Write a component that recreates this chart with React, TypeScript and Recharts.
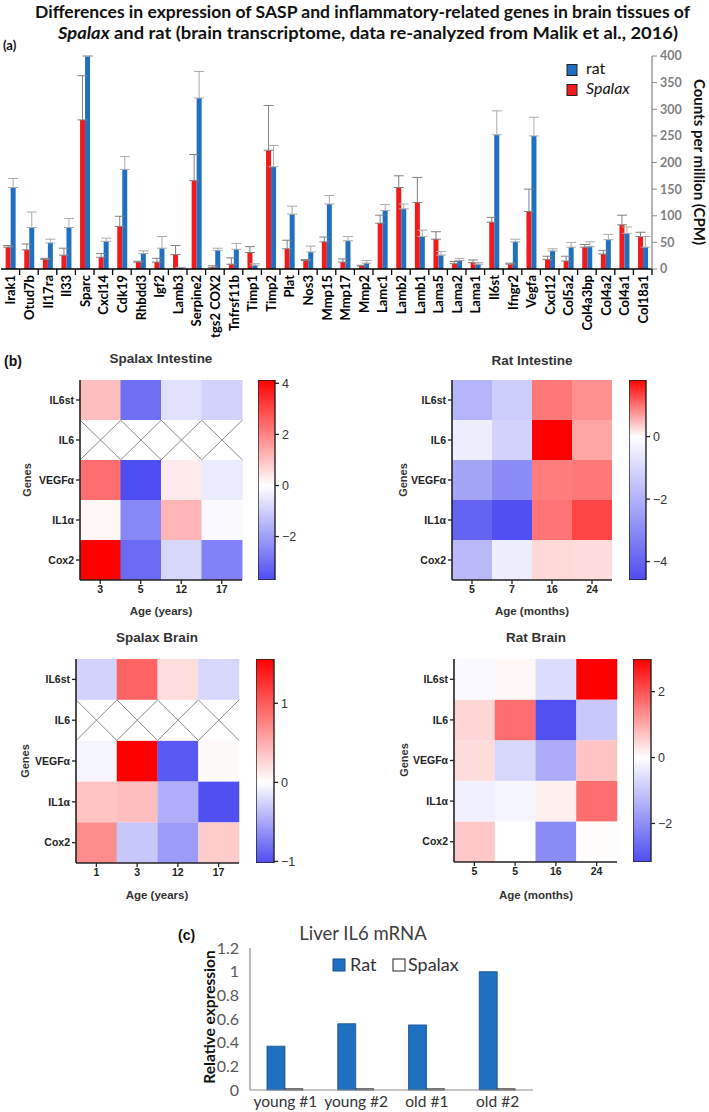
import React from 'react';
import { BarChart, Bar, XAxis, YAxis, ErrorBar } from 'recharts';

const CALIBRI = 'Lato, "Open Sans", sans-serif';
const ARIAL = '"Liberation Sans", Arial, sans-serif';

// ---------- (a) brain transcriptome ----------
const genes = ['Irak1', 'Otud7b', 'Il17ra', 'Il33', 'Sparc', 'Cxcl14', 'Cdk19', 'Rhbdd3', 'Igf2', 'Lamb3', 'Serpine2', 'tgs2 COX2', 'Tnfrsf11b', 'Timp1', 'Timp2', 'Plat', 'Nos3', 'Mmp15', 'Mmp17', 'Mmp2', 'Lamc1', 'Lamb2', 'Lamb1', 'Lama5', 'Lama2', 'Lama1', 'Il6st', 'Ifngr2', 'Vegfa', 'Cxcl12', 'Col5a2', 'Col4a3bp', 'Col4a2', 'Col4a1', 'Col18a1'];
const spalaxCPM = [41, 36, 18, 26, 280, 22, 80, 13, 13, 27, 166, 3, 9, 31, 223, 38, 16, 51, 13, 6, 86, 153, 125, 56, 10, 12, 88, 9, 108, 18, 15, 41, 28, 83, 61];
const spalaxSD = [3, 11, 2, 13, 83, 7, 19, 1.5, 7, 17, 49, 3, 12, 11, 84, 16, 2, 9, 6, 1, 15, 22, 47, 14, 4, 5, 9, 2, 42, 6, 9, 5, 7, 18, 8];
const ratCPM = [153, 78, 49, 78, 400, 52, 187, 29, 39, 3, 321, 35, 37, 7, 192, 103, 32, 122, 53, 11, 110, 113, 61, 26, 16, 9, 252, 51, 250, 34, 41, 42, 55, 67, 41];
const ratSD = [17, 29, 7, 17, 0, 6, 24, 5, 22, 0, 50, 4, 11, 3, 40, 15, 11, 16, 8, 5, 11, 9, 12, 7, 4, 3, 45, 5, 35, 4, 9, 9, 10, 12, 20];
const cpmTicks = [0, 50, 100, 150, 200, 250, 300, 350, 400];

// ---------- (b) heatmaps ----------
const heatGenes = ['IL6st', 'IL6', 'VEGFα', 'IL1α', 'Cox2'];

const spalaxIntestineAges = ['3', '5', '12', '17'];
const spalaxIntestineZ: (number | null)[][] = [
  [1.05, -3.0, -0.62, -0.93],
  [null, null, null, null],
  [2.35, -3.7, 0.33, -0.42],
  [0.14, -2.5, 1.2, -0.1],
  [4.13, -3.1, -0.83, -2.6],
];
const spalaxIntestineRange = [-3.7, 4.13];
const spalaxIntestineTicks = [-2, 0, 2, 4];

const ratIntestineAges = ['5', '7', '16', '24'];
const ratIntestineZ: (number | null)[][] = [
  [-1.93, -1.29, 0.96, 0.78],
  [-0.44, -1.16, 1.81, 0.64],
  [-2.32, -2.96, 0.92, 0.96],
  [-4.0, -4.5, 0.99, 1.31],
  [-1.8, -0.44, 0.28, 0.25],
];
const ratIntestineRange = [-4.59, 1.81];
const ratIntestineTicks = [-4, -2, 0];

const spalaxBrainAges = ['1', '3', '12', '17'];
const spalaxBrainZ: (number | null)[][] = [
  [-0.26, 0.95, 0.21, -0.23],
  [null, null, null, null],
  [-0.06, 1.56, -0.95, 0.03],
  [0.37, 0.4, -0.46, -1.0],
  [0.7, -0.32, -0.57, 0.31],
];
const spalaxBrainRange = [-1.02, 1.56];
const spalaxBrainTicks = [-1, 0, 1];

const ratBrainAges = ['5', '5', '16', '24'];
const ratBrainZ: (number | null)[][] = [
  [-0.1, 0.1, -0.6, 2.99],
  [0.48, 1.7, -3.1, -0.98],
  [0.41, -0.71, -1.5, 0.7],
  [-0.27, -0.18, 0.18, 1.7],
  [0.65, 0, -2.05, 0.03],
];
const ratBrainRange = [-3.17, 2.99];
const ratBrainTicks = [-2, 0, 2];

// ---------- (c) liver IL6 ----------
const liverSamples = ['young #1', 'young #2', 'old #1', 'old #2'];
const liverRat = [0.37, 0.56, 0.55, 1.0];
const liverSpalax = [0.01, 0.01, 0.01, 0.01];
const liverTicks = [0, 0.2, 0.4, 0.6, 0.8, 1, 1.2];

const RED = '#f21a1a';
const BLUE = '#1f70c1';
const HEAT_BLUE = [77, 77, 242];

function heatColor(v: number, lo: number, hi: number) {
  if (v >= 0) {
    const f = Math.min(1, v / hi);
    const c = Math.round(255 * (1 - f));
    return `rgb(255,${c},${c})`;
  }
  const f = Math.min(1, v / lo);
  const r = Math.round(255 + f * (HEAT_BLUE[0] - 255));
  const g = Math.round(255 + f * (HEAT_BLUE[1] - 255));
  const b = Math.round(255 + f * (HEAT_BLUE[2] - 255));
  return `rgb(${r},${g},${b})`;
}

const fmtMinus = (v: number) => (v < 0 ? '\u2212' + Math.abs(v) : String(v));

const topData = genes.map((g, i) => ({
  gene: g,
  spalax: spalaxCPM[i],
  spalaxErr: [0, spalaxSD[i]],
  rat: ratCPM[i],
  ratErr: [0, ratSD[i]],
}));

const liverData = liverSamples.map((s, i) => ({ sample: s, rat: liverRat[i], spalax: liverSpalax[i] }));

const CatTick = (props: any) => {
  const { x, y, payload } = props;
  const half = payload && payload.offset ? payload.offset : 9.3;
  return (
    <g>
      <line x1={x + half} x2={x + half} y1={y} y2={y + 6} stroke="#000" strokeWidth={1.3} />
      <text
        transform={`translate(${x},${y + 6}) rotate(-90)`}
        textAnchor="end"
        dominantBaseline="central"
        fontFamily={CALIBRI}
        fontWeight={700}
        fontSize={13}
        fill="#000"
      >
        {payload.value}
      </text>
    </g>
  );
};

type HeatProps = {
  id: string;
  plotX: number;
  plotY: number;
  plotW: number;
  plotH: number;
  ages: string[];
  z: (number | null)[][];
  range: number[];
  ticks: number[];
  cbX: number;
  cbW: number;
};

function Heatmap({ id, plotX, plotY, plotW, plotH, ages, z, range, ticks, cbX, cbW }: HeatProps) {
  const [lo, hi] = range;
  const n = heatGenes.length;
  const data = ages.map((a, i) => {
    const row: any = { i, age: a };
    heatGenes.forEach((_, r) => {
      row['g' + r] = 1;
    });
    return row;
  });
  const yTicks = heatGenes.map((_, r) => n - r - 0.5);
  const yLabel = (v: number) => heatGenes[Math.round(n - 0.5 - v)];
  const LW = 80;
  const TM = 5;
  const RM = 5;
  const XH = 22;
  const CBM = 9;
  const order = heatGenes.map((_, r) => n - 1 - r);
  const tickStyle = { fontFamily: ARIAL, fontWeight: 700, fontSize: 10.5, fill: '#222' };
  return (
    <>
      <div style={{ position: 'absolute', left: plotX - LW, top: plotY - TM }}>
        <BarChart
          width={LW + plotW + RM}
          height={TM + plotH + XH}
          data={data}
          margin={{ top: TM, right: RM, left: 0, bottom: 0 }}
          barCategoryGap={0}
          barGap={0}
        >
          <XAxis
            dataKey="i"
            type="category"
            height={XH}
            interval={0}
            tickFormatter={(_v: any, idx: number) => ages[idx]}
            tick={tickStyle}
            tickSize={4}
            tickMargin={2}
            tickLine={{ stroke: '#222', strokeWidth: 1.3 }}
            axisLine={{ stroke: '#222', strokeWidth: 1.6 }}
          />
          <XAxis
            xAxisId="top"
            orientation="top"
            dataKey="i"
            type="category"
            height={0}
            tick={false}
            tickLine={false}
            axisLine={{ stroke: '#222', strokeWidth: 1.6 }}
          />
          <YAxis
            type="number"
            width={LW}
            domain={[0, n]}
            ticks={yTicks}
            interval={0}
            tickFormatter={yLabel}
            tick={tickStyle}
            tickSize={4}
            tickMargin={2}
            tickLine={{ stroke: '#222', strokeWidth: 1.3 }}
            axisLine={{ stroke: '#222', strokeWidth: 1.6 }}
          />
          <YAxis
            yAxisId="right"
            orientation="right"
            type="number"
            width={0}
            domain={[0, n]}
            tick={false}
            tickLine={false}
            axisLine={{ stroke: '#222', strokeWidth: 1.6 }}
          />
          {order.map((r) => (
            <Bar
              key={'g' + r}
              dataKey={'g' + r}
              stackId="h"
              isAnimationActive={false}
              shape={(p: any) => {
                const col = p.payload && p.payload.i !== undefined ? p.payload.i : p.index;
                const v = z[r][col];
                const { x, y, width, height } = p;
                if (v === null || v === undefined) {
                  return (
                    <g>
                      <rect x={x} y={y} width={width} height={height} fill="#fff" />
                      <line x1={x} y1={y} x2={x + width} y2={y + height} stroke="#8a8a8a" strokeWidth={1} />
                      <line x1={x} y1={y + height} x2={x + width} y2={y} stroke="#8a8a8a" strokeWidth={1} />
                    </g>
                  );
                }
                return <rect x={x} y={y} width={width} height={height} fill={heatColor(v, lo, hi)} />;
              }}
            />
          ))}
        </BarChart>
      </div>
      <div style={{ position: 'absolute', left: cbX, top: plotY - CBM }}>
        <BarChart
          width={cbW + 40}
          height={plotH + 2 * CBM}
          data={[{ k: 'c', r: [lo, hi] }]}
          margin={{ top: CBM, right: 0, left: 0, bottom: CBM }}
          barCategoryGap={0}
        >
          <defs>
            <linearGradient id={id} x1="0" y1="0" x2="0" y2="1">
              <stop offset="0" stopColor="#ff0000" />
              <stop offset={hi / (hi - lo)} stopColor="#ffffff" />
              <stop offset="1" stopColor={`rgb(${HEAT_BLUE.join(',')})`} />
            </linearGradient>
          </defs>
          <XAxis dataKey="k" hide />
          <YAxis
            orientation="right"
            type="number"
            width={40}
            domain={[lo, hi]}
            allowDataOverflow
            ticks={ticks}
            interval={0}
            tickFormatter={fmtMinus}
            tickSize={4}
            tickMargin={3}
            tickLine={{ stroke: '#222', strokeWidth: 1.3 }}
            axisLine={false}
            tick={{ fontFamily: ARIAL, fontSize: 12.5, fill: '#333' }}
          />
          <Bar dataKey="r" fill={`url(#${id})`} stroke="#222" strokeWidth={1.4} isAnimationActive={false} />
        </BarChart>
      </div>
    </>
  );
}

export default function App() {
  return (
    <div style={{ position: 'absolute', left: 0, top: 0, width: 709, height: 1112, background: '#fff', overflow: 'hidden' }}>
      {/* (a) */}
      <div style={{ position: 'absolute', left: 0, top: 0 }}>
        <BarChart
          width={709}
          height={340}
          data={topData}
          margin={{ top: 56, right: 0, left: 1, bottom: 0 }}
          barCategoryGap="25%"
          barGap={0}
        >
          <XAxis
            dataKey="gene"
            type="category"
            height={71}
            interval={0}
            tickSize={0}
            tickMargin={0}
            tickLine={false}
            tick={<CatTick />}
            axisLine={{ stroke: '#000', strokeWidth: 1.6 }}
          />
          <YAxis
            orientation="right"
            type="number"
            width={57}
            domain={[0, 400]}
            allowDataOverflow
            ticks={cpmTicks}
            interval={0}
            tickSize={5}
            tickMargin={3}
            tickLine={{ stroke: '#8c8c8c' }}
            axisLine={{ stroke: '#8c8c8c', strokeWidth: 1.3 }}
            tick={{ fontFamily: CALIBRI, fontWeight: 700, fontSize: 12.5, fill: '#7f7f7f' }}
          />
          <Bar dataKey="spalax" fill={RED} isAnimationActive={false}>
            <ErrorBar dataKey="spalaxErr" direction="y" width={5} stroke="#808080" strokeWidth={1} />
          </Bar>
          <Bar dataKey="rat" fill={BLUE} isAnimationActive={false}>
            <ErrorBar dataKey="ratErr" direction="y" width={5} stroke="#ababab" strokeWidth={1} />
          </Bar>
        </BarChart>
      </div>

      {/* (b) */}
      <Heatmap id="gSI" plotX={80} plotY={380} plotW={162} plotH={200} ages={spalaxIntestineAges} z={spalaxIntestineZ} range={spalaxIntestineRange} ticks={spalaxIntestineTicks} cbX={258} cbW={17} />
      <Heatmap id="gRI" plotX={452} plotY={380} plotW={160} plotH={200} ages={ratIntestineAges} z={ratIntestineZ} range={ratIntestineRange} ticks={ratIntestineTicks} cbX={629} cbW={17} />
      <Heatmap id="gSB" plotX={76} plotY={659} plotW={163} plotH={204} ages={spalaxBrainAges} z={spalaxBrainZ} range={spalaxBrainRange} ticks={spalaxBrainTicks} cbX={256} cbW={18} />
      <Heatmap id="gRB" plotX={454} plotY={659} plotW={163} plotH={203} ages={ratBrainAges} z={ratBrainZ} range={ratBrainRange} ticks={ratBrainTicks} cbX={633} cbW={18} />

      {/* (c) */}
      <div style={{ position: 'absolute', left: 150, top: 920 }}>
        <BarChart
          width={400}
          height={192}
          data={liverData}
          margin={{ top: 28, right: 17, left: 0, bottom: 0 }}
          barCategoryGap="24%"
          barGap={0}
        >
          <XAxis
            dataKey="sample"
            type="category"
            height={22}
            interval={0}
            tickLine={false}
            tickMargin={0}
            axisLine={{ stroke: '#8c8c8c', strokeWidth: 1.2 }}
            tick={{ fontFamily: CALIBRI, fontSize: 15.5, fill: '#333' }}
          />
          <YAxis
            type="number"
            width={100}
            domain={[0, 1.2]}
            ticks={liverTicks}
            interval={0}
            tickLine={false}
            tickMargin={5}
            axisLine={{ stroke: '#8c8c8c', strokeWidth: 1.2 }}
            tick={{ fontFamily: CALIBRI, fontSize: 16, fill: '#595959' }}
          />
          <Bar dataKey="rat" fill={BLUE} stroke="#1b4f8a" strokeWidth={0.8} isAnimationActive={false} />
          <Bar dataKey="spalax" fill="#fff" stroke="#000" strokeWidth={0.8} isAnimationActive={false} />
        </BarChart>
      </div>

      {/* annotation texts */}
      <svg width={709} height={1112} style={{ position: 'absolute', left: 0, top: 0, pointerEvents: 'none' }}>
        <text x={362.5} y={18} textAnchor="middle" textLength={655} lengthAdjust="spacingAndGlyphs" fontFamily={CALIBRI} fontWeight={700} fontSize={17} fill="#111">
          Differences in expression of SASP and inflammatory-related genes in brain tissues of
        </text>
        <text x={368} y={39} textAnchor="middle" textLength={620} lengthAdjust="spacingAndGlyphs" fontFamily={CALIBRI} fontWeight={700} fontSize={17} fill="#111">
          <tspan fontStyle="italic">Spalax</tspan> and rat (brain transcriptome, data re-analyzed from Malik et al., 2016)
        </text>
        <text x={3} y={50} fontFamily={CALIBRI} fontWeight={700} fontSize={13} fill="#111">(a)</text>

        <text transform="translate(700,162) rotate(90)" textAnchor="middle" dominantBaseline="central" fontFamily={CALIBRI} fontWeight={700} fontSize={15} fill="#111">
          Counts per million (CPM)
        </text>

        <rect x={567} y={64.5} width={10} height={11} fill={BLUE} stroke="#222" strokeWidth={1} />
        <text x={586} y={74} fontFamily={CALIBRI} fontSize={16} fill="#111">rat</text>
        <rect x={567} y={84.5} width={10} height={11} fill={RED} stroke="#222" strokeWidth={1} />
        <text x={586} y={94} fontFamily={CALIBRI} fontStyle="italic" fontSize={16} fill="#111">Spalax</text>

        <text x={4} y={366} fontFamily={ARIAL} fontWeight={700} fontSize={14} fill="#111">(b)</text>

        <text x={161} y={363} textAnchor="middle" fontFamily={ARIAL} fontWeight={700} fontSize={13.5} fill="#333">Spalax Intestine</text>
        <text x={532} y={365} textAnchor="middle" fontFamily={ARIAL} fontWeight={700} fontSize={13.5} fill="#333">Rat Intestine</text>
        <text x={157} y={642} textAnchor="middle" fontFamily={ARIAL} fontWeight={700} fontSize={13.5} fill="#333">Spalax Brain</text>
        <text x={536} y={642} textAnchor="middle" fontFamily={ARIAL} fontWeight={700} fontSize={13.5} fill="#333">Rat Brain</text>

        <text transform="translate(27,480) rotate(-90)" textAnchor="middle" dominantBaseline="central" fontFamily={ARIAL} fontWeight={700} fontSize={11} fill="#333">Genes</text>
        <text transform="translate(403,480) rotate(-90)" textAnchor="middle" dominantBaseline="central" fontFamily={ARIAL} fontWeight={700} fontSize={11} fill="#333">Genes</text>
        <text transform="translate(25,761) rotate(-90)" textAnchor="middle" dominantBaseline="central" fontFamily={ARIAL} fontWeight={700} fontSize={11} fill="#333">Genes</text>
        <text transform="translate(404,760) rotate(-90)" textAnchor="middle" dominantBaseline="central" fontFamily={ARIAL} fontWeight={700} fontSize={11} fill="#333">Genes</text>

        <text x={161} y={615} textAnchor="middle" fontFamily={ARIAL} fontWeight={700} fontSize={11.5} fill="#333">Age (years)</text>
        <text x={532} y={615} textAnchor="middle" fontFamily={ARIAL} fontWeight={700} fontSize={11.5} fill="#333">Age (months)</text>
        <text x={157} y={899} textAnchor="middle" fontFamily={ARIAL} fontWeight={700} fontSize={11.5} fill="#333">Age (years)</text>
        <text x={536} y={899} textAnchor="middle" fontFamily={ARIAL} fontWeight={700} fontSize={11.5} fill="#333">Age (months)</text>

        <text x={178} y={940} fontFamily={ARIAL} fontWeight={700} fontSize={14} fill="#111">(c)</text>
        <text x={363} y={940} textAnchor="middle" fontFamily={CALIBRI} fontSize={18.5} fill="#404040">Liver IL6 mRNA</text>
        <text transform="translate(209,1017) rotate(-90)" textAnchor="middle" dominantBaseline="central" fontFamily={CALIBRI} fontWeight={700} fontSize={15.5} fill="#111">Relative expression</text>

        <rect x={333} y={959} width={12} height={12} fill={BLUE} stroke="#1b4f8a" strokeWidth={1} />
        <text x={350} y={971} fontFamily={CALIBRI} fontSize={18} fill="#333">Rat</text>
        <rect x={393} y={959} width={12} height={12} fill="#fff" stroke="#222" strokeWidth={1} />
        <text x={408} y={971} fontFamily={CALIBRI} fontSize={18} fill="#333">Spalax</text>
      </svg>
    </div>
  );
}
